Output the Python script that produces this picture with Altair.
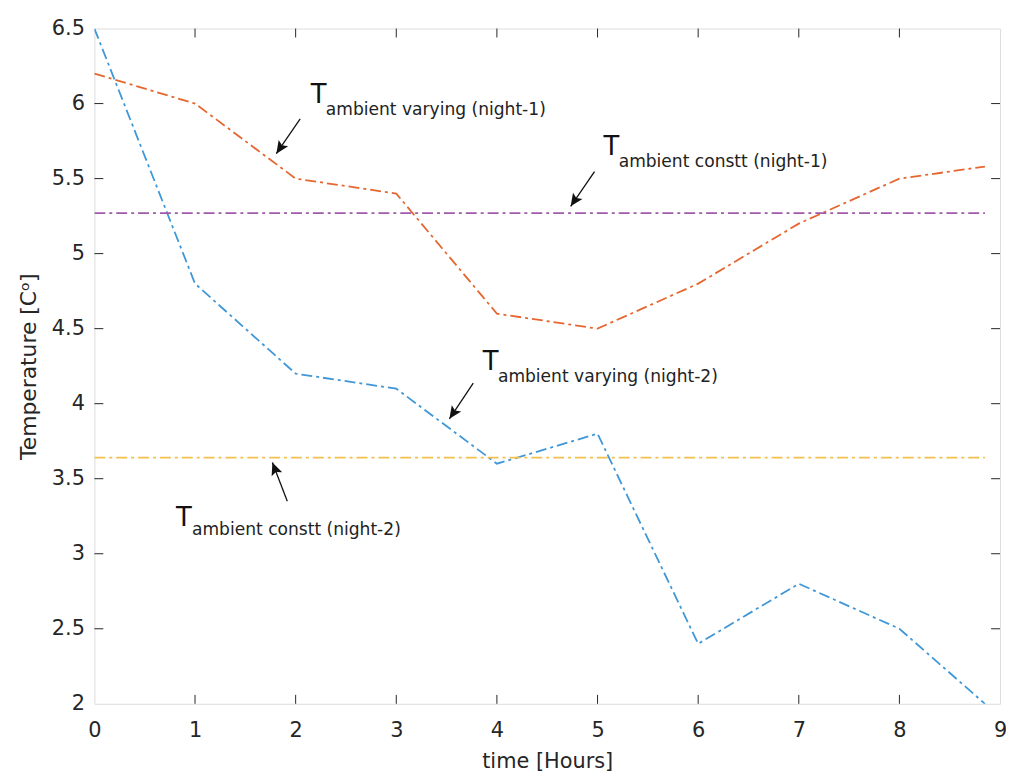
import altair as alt
import pandas as pd

# ---- data ----
hours = [0, 1, 2, 3, 4, 5, 6, 7, 8, 8.85]
t_vary_n1 = [6.2, 6.0, 5.5, 5.4, 4.6, 4.5, 4.8, 5.2, 5.5, 5.58]
t_vary_n2 = [6.5, 4.8, 4.2, 4.1, 3.6, 3.8, 2.4, 2.8, 2.5, 2.0]
const_x = [0, 8.85]
t_const_n1 = 5.27
t_const_n2 = 3.64

series_names = ["varying night-1", "varying night-2", "constt night-1", "constt night-2"]
series_colors = ["#e5672f", "#3f97d8", "#a05aaa", "#f2c04d"]

x_ticks = [0, 1, 2, 3, 4, 5, 6, 7, 8, 9]
y_ticks = [2, 2.5, 3, 3.5, 4, 4.5, 5, 5.5, 6, 6.5]

# annotations (data coordinates)
ann_T_x = [2.15, 5.06, 3.86, 0.81]
ann_T_y = [6.06, 5.71, 4.28, 3.24]
ann_sub_x = [2.30, 5.21, 4.01, 0.97]
ann_sub_y = [5.96, 5.61, 4.18, 3.16]
ann_sub_text = ["ambient varying (night-1)", "ambient constt (night-1)",
                "ambient varying (night-2)", "ambient constt (night-2)"]
arrow_tail_x = [2.045, 4.97, 3.765, 1.917]
arrow_tail_y = [5.898, 5.547, 4.137, 3.350]
arrow_tip_x = [1.808, 4.733, 3.528, 1.769]
arrow_tip_y = [5.666, 5.315, 3.899, 3.608]
arrow_angle = [214, 214, 214, 339]

W, H = 912, 680
FONT = "DejaVu Sans"
TXT = "#262626"

rows = []
for x, y in zip(hours, t_vary_n1):
    rows.append({"x": x, "y": y, "s": series_names[0]})
for x, y in zip(hours, t_vary_n2):
    rows.append({"x": x, "y": y, "s": series_names[1]})
for x in const_x:
    rows.append({"x": x, "y": t_const_n1, "s": series_names[2]})
for x in const_x:
    rows.append({"x": x, "y": t_const_n2, "s": series_names[3]})
df = pd.DataFrame(rows)

xs = alt.Scale(domain=[0, 9], nice=False, zero=False)
ys = alt.Scale(domain=[2, 6.5], nice=False, zero=False)

lines = alt.Chart(df).mark_line(strokeWidth=1.8, strokeDash=[11, 4, 3, 4], clip=True).encode(
    x=alt.X("x:Q", scale=xs,
            axis=alt.Axis(values=x_ticks, title="time [Hours]", grid=False, domain=False,
                          ticks=False, labelFontSize=21, labelPadding=16, labelColor=TXT,
                          labelFont=FONT, titleFont=FONT, titleFontSize=21,
                          titleFontWeight="normal", titleColor=TXT, titlePadding=10,
                          format="d", labelFlush=False)),
    y=alt.Y("y:Q", scale=ys,
            axis=alt.Axis(values=y_ticks, title="Temperature [Cᵒ]", grid=False, domain=False,
                          ticks=False, labelFontSize=21, labelPadding=10, labelColor=TXT,
                          labelFont=FONT, titleFont=FONT, titleFontSize=22,
                          titleFontWeight="normal", titleColor=TXT, titlePadding=11,
                          format="~g", labelFlush=False)),
    color=alt.Color("s:N", scale=alt.Scale(domain=series_names, range=series_colors), legend=None),
    detail="s:N",
)

xt = pd.DataFrame({"v": x_ticks[1:-1]})
yt = pd.DataFrame({"v": y_ticks[1:-1]})
tick_style = dict(color=TXT, strokeWidth=1)
tb = alt.Chart(xt).mark_rule(**tick_style).encode(x=alt.X("v:Q", scale=xs), y=alt.value(H), y2=alt.value(H - 9))
tt = alt.Chart(xt).mark_rule(**tick_style).encode(x=alt.X("v:Q", scale=xs), y=alt.value(0), y2=alt.value(9))
tl = alt.Chart(yt).mark_rule(**tick_style).encode(y=alt.Y("v:Q", scale=ys), x=alt.value(0), x2=alt.value(9))
tr = alt.Chart(yt).mark_rule(**tick_style).encode(y=alt.Y("v:Q", scale=ys), x=alt.value(W), x2=alt.value(W - 9))

ann = pd.DataFrame({
    "tx": ann_T_x, "ty": ann_T_y, "sx": ann_sub_x, "sy": ann_sub_y, "st": ann_sub_text,
    "ax": arrow_tail_x, "ay": arrow_tail_y, "bx": arrow_tip_x, "by": arrow_tip_y, "ang": arrow_angle,
})
T_text = alt.Chart(ann).mark_text(text="T", fontSize=26, font=FONT, align="left",
                                   baseline="middle", color="#111").encode(
    x=alt.X("tx:Q", scale=xs), y=alt.Y("ty:Q", scale=ys))
sub_text = alt.Chart(ann).mark_text(fontSize=17.2, font=FONT, align="left",
                                     baseline="middle", color="#222").encode(
    x=alt.X("sx:Q", scale=xs), y=alt.Y("sy:Q", scale=ys), text="st:N")
shaft = alt.Chart(ann).mark_rule(color="#111", strokeWidth=1.3).encode(
    x=alt.X("ax:Q", scale=xs), y=alt.Y("ay:Q", scale=ys),
    x2="bx:Q", y2="by:Q")
head = alt.Chart(ann).mark_point(
    shape="M0,0 L-0.45,1 L0,0.8 L0.45,1 Z", filled=True, color="#111", size=650, opacity=1
).encode(x=alt.X("bx:Q", scale=xs), y=alt.Y("by:Q", scale=ys), angle=alt.Angle("ang:Q", scale=None))

chart = alt.layer(lines, tb, tt, tl, tr, shaft, head, T_text, sub_text).properties(
    width=W, height=H,
    autosize=alt.AutoSizeParams(type="none"),
    padding={"left": 87, "top": 18, "right": 6, "bottom": 66},
).configure_view(stroke=TXT, strokeWidth=1).configure(background="white")

chart.save("out.html", embed_options={"renderer": "svg", "actions": False})
